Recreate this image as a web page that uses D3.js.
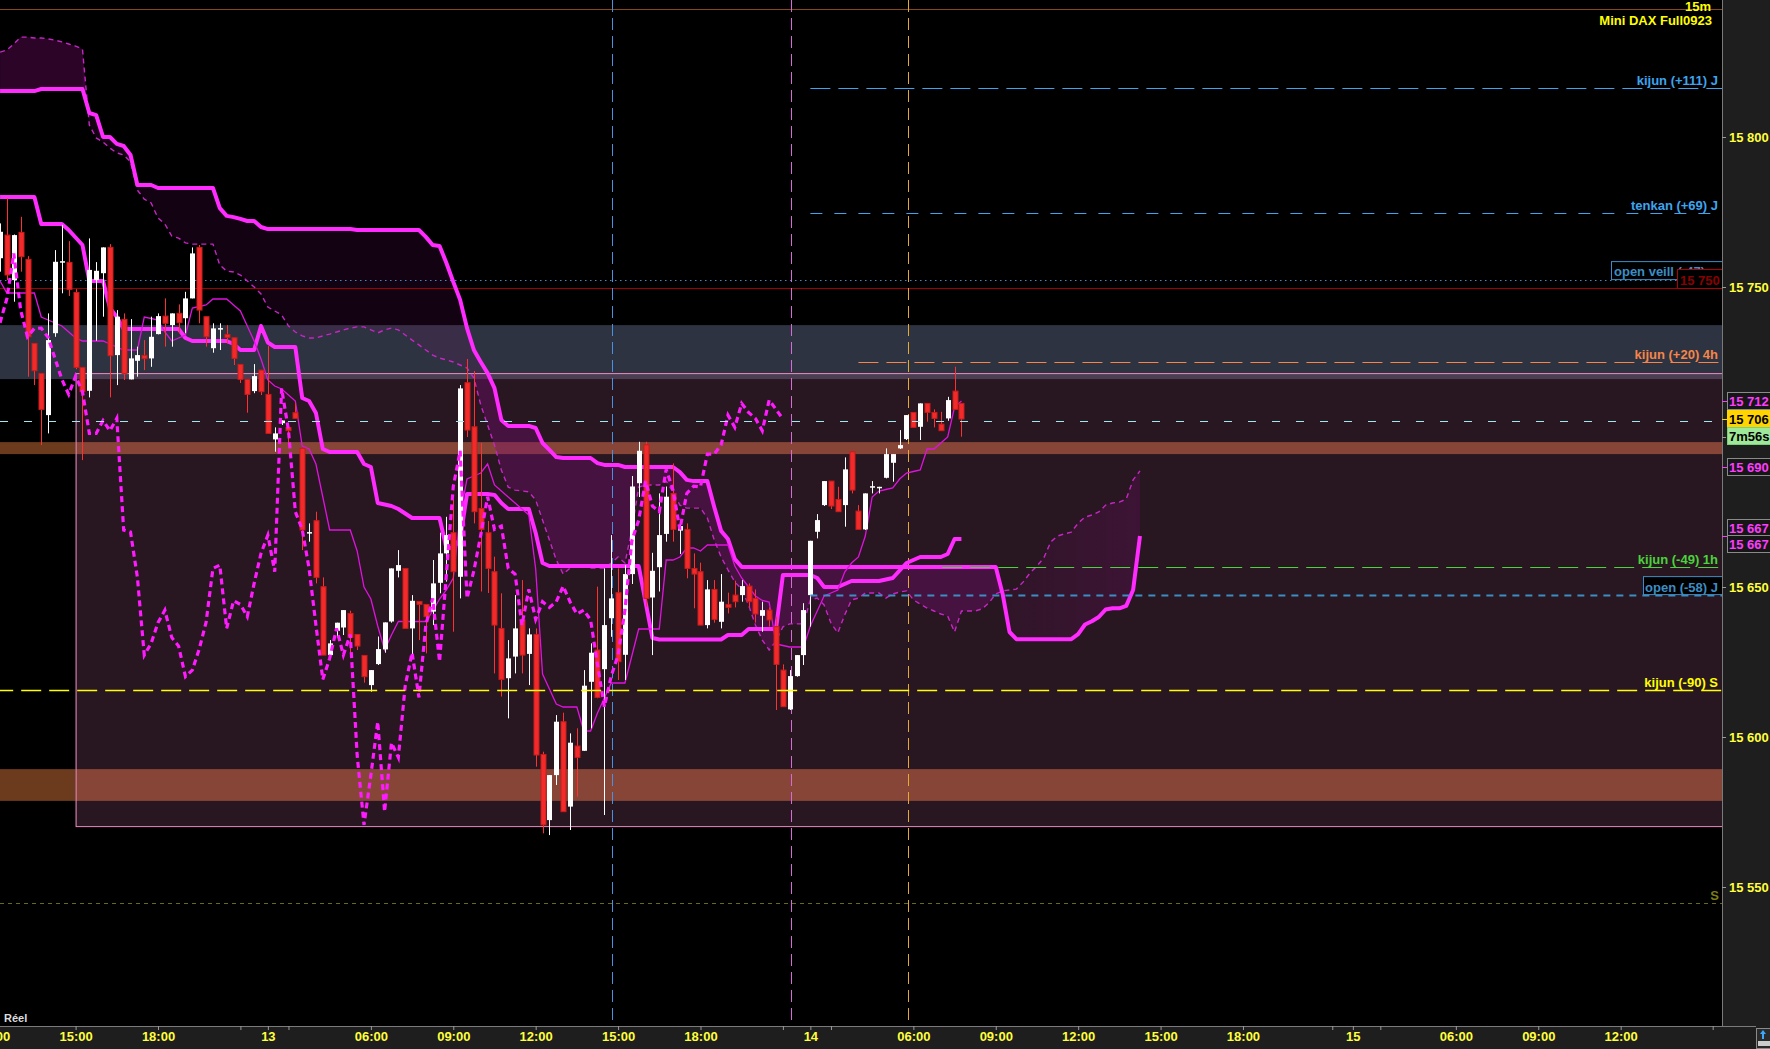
<!DOCTYPE html>
<html><head><meta charset="utf-8">
<script src="https://cdn.jsdelivr.net/npm/d3@7"></script>
<style>
html,body{margin:0;padding:0;background:#000;overflow:hidden}
svg{display:block}
text{font-family:"Liberation Sans",Arial,sans-serif;font-weight:bold}
</style></head><body>
<svg id="c" width="1770" height="1049"></svg>
<script>
// ---------- DATA ----------
const opens=[15759.6,15767.3,15752.3,15768.2,15759.2,15731.2,15721.2,15707.3,15734.6,15758.2,
15758.2,15748.2,15723.2,15715.4,15752.3,15754.6,15763.2,15727.3,15739.2,15719.2,
15725.4,15727.2,15726.2,15734.3,15740.3,15737.3,15741.2,15739.6,15746.2,15763.2,
15740.1,15729.6,15736.1,15734.2,15733.1,15724.2,15719.2,15715.3,15722.3,15714.2,
15699.2,15704.6,15703.2,15708.1,15696.2,15668.1,15672.1,15650.1,15627.3,15635.4,
15636.5,15641.2,15634.2,15627.2,15617.3,15624.3,15629.2,15638.5,15655.4,15656.2,
15636.2,15645.2,15644.2,15641.8,15651.4,15661.2,15668.1,15653.4,15718.1,15703.4,
15676.2,15668.1,15655.1,15636.2,15619.6,15626.8,15639,15627.7,15634.2,15594.2,
15572.3,15587.3,15605.1,15576.8,15597,15595.4,15618.4,15629,15622.6,15639.6,
15648.1,15627.4,15654.3,15684.6,15697.4,15646.5,15656.6,15667.7,15681.2,15668.8,
15669.2,15656.2,15655.1,15637.3,15649.2,15638.4,15644.2,15647.3,15647.3,15650.3,
15646.2,15640.4,15642.3,15636.8,15622.3,15609.2,15620.3,15627.3,15647.3,15668.4,
15677.3,15685.3,15679.2,15677.3,15695.1,15675.3,15669.2,15683.1,15683.2,15686.4,
15691.4,15696.2,15699.3,15708.2,15703.4,15711.2,15708.2,15704.3,15706.2,15715.3,
15711.2];
const highs=[15771.2,15779.6,15767.5,15773.4,15760.3,15731.2,15721.2,15741.2,15762.3,15770.7,
15765.3,15749.3,15723.2,15766.2,15758.3,15763.2,15764.3,15742.3,15741.2,15739.3,
15730.1,15732.3,15740.1,15741.2,15746.2,15741.2,15744.2,15748.4,15763.2,15764,
15740.1,15737.9,15737.9,15737.3,15733.1,15724.2,15719.2,15724.3,15722.3,15730.3,
15703.2,15705.5,15703.2,15711.2,15696.2,15671.2,15675.1,15653.2,15632.3,15638.1,
15642.3,15642.1,15634.2,15627.2,15622.3,15633.5,15638.2,15656.2,15662.3,15656.2,
15647.3,15645.2,15644.2,15659,15668.1,15673.4,15679.2,15717.3,15726,15722,
15698,15672,15660.1,15647.9,15632.3,15647.3,15652.3,15636.2,15636.2,15595.1,
15587.3,15607.3,15608.1,15601.2,15602.9,15622.3,15631.2,15650.1,15656.2,15667.3,
15656.2,15657.3,15687,15698.4,15698.4,15661.4,15681.2,15683.5,15691.2,15671.2,
15671.2,15661.2,15658.1,15652.3,15652.3,15654.3,15648.1,15652.1,15652.3,15651.2,
15649.2,15645.1,15643.2,15640.1,15624.2,15622.3,15627.3,15644.6,15665.4,15674.3,
15685.3,15685.3,15683.4,15693.2,15695.1,15677.3,15681.2,15685.3,15683.4,15696.2,
15694.3,15702.3,15707.3,15708.2,15711.2,15711.2,15709.2,15708.4,15713.4,15723.4,
15711.2];
const lows=[15755.1,15752.3,15745.1,15755.1,15720.1,15717.3,15697.3,15701.2,15733.4,15747.9,
15747,15722.6,15692.3,15713.2,15732.1,15740.1,15713.2,15717.3,15719,15719.2,
15720.1,15722.3,15723.4,15734.2,15730.1,15730.1,15734.6,15734.6,15746.2,15737.9,
15730.1,15728.1,15729,15731.2,15724,15718,15708.1,15714.6,15714,15701.2,
15695.1,15704,15697.7,15706.2,15662.3,15665.1,15651.2,15627.3,15626.8,15633.2,
15634,15627,15629,15618.1,15615.1,15624,15628.1,15638.1,15653.2,15636.2,
15627.3,15632.3,15627.9,15637.3,15647.9,15651.8,15635.1,15646.2,15700,15671.2,
15648.5,15648,15621.2,15613.5,15606.2,15621.2,15621.2,15617.3,15590.1,15567.9,
15567.3,15584,15575.1,15569,15580.1,15595.4,15602.9,15612.9,15574,15633.4,
15619,15619,15651,15680,15643.4,15627.3,15648.5,15665.1,15665.1,15661,
15652.9,15642.9,15637.3,15636.2,15638.1,15636.2,15641.2,15643.2,15645.1,15643.2,
15638.1,15635.1,15636.8,15609,15610.1,15609,15620.1,15624,15636.8,15666.2,
15677,15676,15675.1,15670.1,15681.2,15669.2,15669,15681.2,15681.2,15686.2,
15685.1,15696,15699,15703.2,15699,15705.1,15703.2,15702.1,15705.4,15709.2,
15700.1];
const closes=[15768.4,15754,15767.3,15760.1,15733.4,15722.1,15709.2,15732.3,15758.4,15758.6,
15749.2,15723.2,15715.1,15755.7,15755.4,15763.2,15727.1,15740.1,15721.2,15726.2,
15727.3,15726.1,15733.4,15740.3,15737.9,15741.2,15738.1,15746.2,15761.2,15742.3,
15733.4,15736.2,15736.3,15733.2,15726.2,15719.2,15714.2,15720.3,15715.1,15701.2,
15701.2,15705.5,15702.1,15706.2,15669,15668.3,15653.2,15627.3,15631.2,15638.1,
15642.3,15633.2,15630.3,15620.1,15622.3,15629.3,15638.2,15656.2,15657.3,15636.2,
15645.4,15644.2,15640.1,15651.2,15661.2,15667.3,15655.1,15716.2,15702.3,15675.1,
15669.2,15656.2,15637.3,15619.2,15626.2,15636.2,15627.3,15634.2,15594,15570.7,
15587.3,15605.1,15575.1,15598.1,15593.2,15617.1,15628.1,15613.2,15637.3,15646.2,
15625.1,15654.3,15683.5,15695.4,15646.2,15655.4,15667.3,15680.1,15669.2,15670.3,
15656.2,15654.3,15637.3,15649.2,15639.2,15645.1,15643.2,15645.1,15650.3,15645.1,
15641,15642.3,15639,15624.2,15610.1,15620.3,15627.3,15642.3,15665.4,15672.3,
15685.3,15677,15675.1,15689.2,15682.3,15669.2,15681.2,15683.6,15683.4,15694.3,
15694.3,15697.3,15707.3,15703.2,15711.2,15708.2,15706.2,15702.1,15712.3,15709.2,
15706];
const tenkan=[15752,15748,15748,15748,15748,15748,15740,15739,15738,15737,
15735,15733,15732,15732,15732,15732,15731,15730,15729,15729,
15729,15740,15739.5,15739,15735,15732,15733,15734,15743,15743.5,
15744,15746,15746,15746,15744,15742,15737,15732,15726,15719,
15717,15716,15714,15712,15697,15696,15691,15680,15669,15669,
15669,15669,15662,15650,15646,15637,15629,15634,15638.5,15638.5,
15638.5,15638.5,15638.5,15642,15646,15649,15653,15674,15686,15687,
15688,15691,15684,15682,15680,15678,15676,15674,15656,15621,
15616,15611,15610,15610,15610,15602,15602,15608,15613,15618,
15618,15618,15627,15636,15636,15636,15636,15659,15659,15660,
15663,15663,15662,15664,15664,15664,15664,15657,15653,15650,
15647,15645.5,15645,15631,15630.5,15630,15630,15630,15637,15642,
15647,15648,15649,15655,15658,15660,15667,15680,15682,15682.5,
15683,15686,15688,15688.5,15689,15696,15696,15698,15700,15710,
15712];
const kijun=[15780,15780,15780,15780,15780,15780,15771,15771,15771,15771,
15769,15766.5,15764,15752,15752,15752,15743,15740,15736,15736,
15736,15736,15736,15736,15736,15736,15736,15733,15732,15732,
15732,15732,15732,15732,15731,15729,15729,15729,15737,15731.5,
15730,15730,15730,15730,15713,15712,15708,15696,15695,15695,
15695,15695,15695,15691,15690,15678,15677.5,15677,15676,15674.5,
15673,15673,15673,15673,15673,15663,15663,15666,15681,15681,
15681,15681,15680.7,15678,15676,15676,15676,15676,15668,15658,
15657,15657,15657,15657,15657,15657,15657,15657,15657,15657,
15657,15657,15657,15657,15645,15633,15632.5,15632.5,15632.5,15632.5,
15632.5,15632.5,15632.5,15632.5,15632.5,15632.5,15634,15634,15634,15636,
15636,15636,15636,15636,15654,15654,15654,15654,15654,15653,
15650,15650,15650,15651,15652,15652,15652,15652,15652,15652.5,
15653,15655.5,15658,15659,15660,15660,15660,15660,15661,15666,
15666];
const senkouA=[15828.3,15829,15831,15833.3,15833.3,15833,15833,15832.7,15832.3,15831.7,
15831,15830.3,15829.3,15804,15799.7,15798.3,15796.3,15794.7,15794,15791.7,
15782.3,15779.3,15778,15773,15771,15767,15766.3,15764.7,15764.3,15764.3,
15764.3,15764.3,15757.3,15755.3,15755,15754,15752,15750,15747.7,15743.3,
15742,15740.7,15737,15735,15733.7,15733,15733,15733.7,15734.3,15735,
15735.7,15736.3,15736.7,15736.7,15735.7,15734.7,15735.7,15736.3,15735.7,15734,
15732.3,15730.7,15729,15727.3,15726.3,15725.7,15725,15724,15723,15719.7,
15710.7,15704,15697.3,15689,15683.3,15682.3,15682,15681.7,15679,15672.3,
15665.7,15659,15654.3,15656.3,15657.3,15656.7,15656.3,15656.3,15656.3,15658,
15660,15658,15669,15683.3,15684,15684,15684,15685.3,15681.7,15677.3,
15676.3,15676.3,15676.3,15673,15665.7,15660,15655.7,15651.7,15649.3,15644,
15637.3,15632.3,15629,15632,15636.7,15637.7,15637.7,15637.7,15645.7,15646.3,
15644,15638,15634.7,15640.7,15645.7,15646.3,15648,15648,15648,15646.3,
15647.7,15648.3,15648.7,15645.7,15644.3,15643,15642,15641,15640.3,15635,
15642,15642,15642,15642.7,15644.7,15647.7,15648.7,15649,15649.3,15651.7,
15654.7,15657,15659.7,15665,15667,15667.7,15668.3,15671.3,15673.3,15674,
15675,15677.3,15678,15678.3,15679.3,15685.7,15688.7];
const senkouB=[15815.3,15815.3,15815.3,15815.3,15815.3,15815.3,15816,15816,15816,15816,
15816,15816,15816,15808,15807.3,15800,15800,15797.7,15797,15794,
15784,15784,15784,15783,15783,15783,15783,15783,15783,15783,
15783,15783,15776.3,15773.7,15773.3,15772.7,15772,15772,15770,15769.3,
15769.3,15769.3,15769.3,15769.3,15769.3,15769.3,15769.3,15769.3,15769.3,15769.3,
15769.3,15769.3,15769,15769,15769,15769,15769,15769,15769,15769,
15769,15769,15766.7,15764,15763.7,15758,15751.7,15745.7,15736.3,15729,
15725,15721.3,15716.3,15705.7,15703.7,15703.7,15703.7,15703.7,15703,15698,
15695.7,15693.3,15693,15693,15693,15693,15693,15691.3,15690.7,15690.7,
15690.7,15690,15690,15690,15690,15690,15690,15690,15690,15688.3,
15685.7,15685.3,15685.3,15685.3,15676.7,15668.7,15666,15659.3,15656.7,15656.7,
15656.7,15656.7,15656.7,15656.7,15656.7,15656.7,15656.7,15656.7,15656.7,15656.7,
15656.7,15656.7,15656.7,15656.7,15656.7,15656.7,15656.7,15656.7,15656.7,15656.7,
15656.7,15656.7,15656.7,15656.7,15656.7,15656.7,15656.7,15656.7,15656.7,15656.7,
15656.7,15656.7,15656.7,15656.7,15656.7,15656.7,15647.7,15635,15632.6,15632.6,
15632.6,15632.6,15632.6,15632.6,15632.6,15632.6,15632.6,15634.3,15637.5,15638.6,
15640,15642.5,15642.9,15642.9,15643.7,15649,15667];
const chikouShift=26;

const timeTickIdx=[-1,11,23,39,54,66,78,90,102,118,133,145,157,169,181,197,212,224,236];
const timeTickLabels=["12:00","15:00","18:00","13","06:00","09:00","12:00","15:00","18:00","14","06:00","09:00","12:00","15:00","18:00","15","06:00","09:00","12:00"];
const minorTickIdx=[35,42,114,121,194,201,249.4];
const priceTicks=[15800,15750,15700,15650,15600,15550];

// zones (price)
const greyZone=[15737.3,15719.3];
const boxZone=[15721.3,15570.3];
const boxStartIdx=11;
const orangeZones=[[15698.3,15694.3],[15589.3,15578.7]];
// horizontal levels
const levelValues=[15816.3,15774.7,15724.9,15656.6,15647.3,15615.7];
const levelLabels=["kijun (+111) J","tenkan (+69) J","kijun (+20) 4h","kijun (-49) 1h","open (-58) J","kijun (-90) S"];
const levelStartIdx=[118,118,125,137.2,118,-1];
const lastPrice=15705.3;
const openVeille=15752.3, redLevel=15749.5, olivLevel=15544.7, topLevel=15842.7;
const verticalIdx=[89.1,115.2,132.15];
// right-axis tags
const tagValues=[15712,15706,15690,15667,15667];
const countdown="7m56s";

// ---------- SETUP ----------
const W=1770,H=1049,PR=1722,PB=1026;
const svg=d3.select("#c");
const x=d3.scaleLinear().domain([0,250]).range([0.06,1716.8]);
const y=d3.scaleLinear().domain([15800,15550]).range([137,887]);
const loc=d3.formatLocale({decimal:".",thousands:" ",grouping:[3],currency:["",""]});
const fmt=loc.format(",.0f");

svg.append("rect").attr("width",W).attr("height",H).attr("fill","#000");
const defs=svg.append("defs");
defs.append("clipPath").attr("id","plotClip").append("rect").attr("x",0).attr("y",0).attr("width",PR).attr("height",PB);
const bx=x(boxStartIdx), by1=y(boxZone[0]), by2=y(boxZone[1]);
defs.append("clipPath").attr("id","inBox").append("rect").attr("x",bx).attr("y",by1).attr("width",PR-bx).attr("height",by2-by1);
defs.append("clipPath").attr("id","outBox").append("path").attr("clip-rule","evenodd")
  .attr("d",`M0,0H${PR}V${PB}H0Z M${bx},${by1}H${PR}V${by2}H${bx}Z`);
const grad=defs.append("linearGradient").attr("id","futGrad").attr("gradientUnits","userSpaceOnUse")
  .attr("x1",x(145)).attr("x2",x(166)).attr("y1",0).attr("y2",0);
grad.append("stop").attr("offset","0%").attr("stop-color","rgb(126,11,118)").attr("stop-opacity",0.08);
grad.append("stop").attr("offset","100%").attr("stop-color","rgb(126,11,118)").attr("stop-opacity",0.24);

const plot=svg.append("g").attr("clip-path","url(#plotClip)");

// zones
plot.append("rect").attr("x",0).attr("width",PR).attr("y",y(greyZone[0])).attr("height",y(greyZone[1])-y(greyZone[0])).attr("fill","#2d3340");
plot.append("rect").attr("x",bx).attr("width",PR-bx).attr("y",by1).attr("height",by2-by1).attr("fill","rgba(182,100,145,0.22)");
orangeZones.forEach(z=>{
  plot.append("rect").attr("x",0).attr("width",bx).attr("y",y(z[0])).attr("height",y(z[1])-y(z[0])).attr("fill","#6c3a1c");
  plot.append("rect").attr("x",bx).attr("width",PR-bx).attr("y",y(z[0])).attr("height",y(z[1])-y(z[0])).attr("fill","#874537");
});

// cloud
const cloud=senkouA.map((a,i)=>({i,a,b:senkouB[i]}));
const seg=(s,e)=>cloud.filter(d=>d.i>=s&&d.i<=e);
const area=d3.area().x(d=>x(d.i)).y0(d=>y(d.a)).y1(d=>y(d.b));
const cloudCol="rgb(126,11,118)";
plot.append("path").attr("d",area(seg(0,13))).attr("fill",cloudCol).attr("fill-opacity",0.34).attr("clip-path","url(#outBox)");
plot.append("path").attr("d",area(seg(12,146))).attr("fill",cloudCol).attr("fill-opacity",0.15).attr("clip-path","url(#outBox)");
plot.append("path").attr("d",area(seg(12,146))).attr("fill",cloudCol).attr("fill-opacity",0.36).attr("clip-path","url(#inBox)");
plot.append("path").attr("d",area(seg(145,166))).attr("fill","url(#futGrad)").attr("clip-path","url(#inBox)");

// box border
plot.append("rect").attr("x",bx+0.5).attr("width",PR-bx).attr("y",by1+0.5).attr("height",by2-by1).attr("fill","none").attr("stroke","#ec8cc0").attr("stroke-width",1);

const hline=(v,x0,col,dash,w)=>plot.append("line").attr("x1",x0).attr("x2",PR).attr("y1",Math.round(y(v))+0.5).attr("y2",Math.round(y(v))+0.5)
  .attr("stroke",col).attr("stroke-width",w||1).attr("stroke-dasharray",dash||null);
hline(topLevel,0,"#8a4a18");
hline(openVeille,0,"#3c8dc4","1.5,3.5");
hline(redLevel,0,"#a00000");
hline(olivLevel,0,"#6a6a12","4,4");

// verticals
const vcols=["#4a8fe0","#d86ad8","#e8a838"];
verticalIdx.forEach((v,k)=>{
  plot.append("line").attr("x1",Math.round(x(v))+0.5).attr("x2",Math.round(x(v))+0.5).attr("y1",0).attr("y2",PB)
    .attr("stroke",vcols[k]).attr("stroke-width",1).attr("stroke-dasharray","12,6");
});

// ichimoku lines
const line=d3.line().x((d,i)=>x(i)).y(d=>y(d));
plot.append("path").attr("d",line(senkouA)).attr("fill","none").attr("stroke","#c526c5").attr("stroke-width",1.4).attr("stroke-dasharray","5,4");
plot.append("path").attr("d",line(senkouB)).attr("fill","none").attr("stroke","#ff2bff").attr("stroke-width",4).attr("stroke-linejoin","round");
plot.append("path").attr("d",line(kijun)).attr("fill","none").attr("stroke","#ff2bff").attr("stroke-width",4).attr("stroke-linejoin","round");
plot.append("path").attr("d",line(tenkan)).attr("fill","none").attr("stroke","#e012e0").attr("stroke-width",1.3);

// candles
const cg=plot.append("g");
closes.forEach((c,i)=>{
  const o=opens[i],h=highs[i],l=lows[i];
  const up=c>=o;
  const cx=Math.round(x(i));
  const col=up?"#ffffff":"#ff3030";
  cg.append("line").attr("x1",cx+0.5).attr("x2",cx+0.5).attr("y1",y(h)).attr("y2",y(l)).attr("stroke",col).attr("stroke-width",1);
  const t=y(Math.max(o,c)), b=y(Math.min(o,c));
  const hgt=Math.max(1.5,b-t);
  cg.append("rect").attr("x",cx-2).attr("width",5).attr("y",t).attr("height",hgt)
    .attr("fill",up?"#ffffff":"#f22a2a").attr("stroke",up?"none":"#c81c1c").attr("stroke-width",up?0:1);
});

// chikou
const chikou=closes.slice(chikouShift);
plot.append("path").attr("d",line(chikou)).attr("fill","none").attr("stroke","#ff1aff").attr("stroke-width",3.2).attr("stroke-dasharray","6,4");

// last price line
hline(lastPrice,0,"#a0e8f0","8,16");

// levels
const lvlCols=["#3ea4ee","#3ea4ee","#f5854a","#4bd23c","#3c8dc4","#ffff00"];
const lvlDash=["20,8","12,12","20,8","20,8","7,6","20,8"];
const lvlW=[1.2,1.2,1.2,1.2,2,1.5];
levelValues.forEach((v,k)=>{
  hline(v,x(levelStartIdx[k]),lvlCols[k],lvlDash[k],lvlW[k]);
});
const yOpen=y(levelValues[4]);
plot.append("rect").attr("x",1643.5).attr("y",yOpen-18.5).attr("width",80).attr("height",18).attr("fill","#000").attr("stroke","#3c8dc4");
levelValues.forEach((v,k)=>{
  plot.append("text").attr("x",1718).attr("y",y(v)-3).attr("text-anchor","end").attr("font-size",13).attr("fill",lvlCols[k]).text(levelLabels[k]);
});
const yOV=y(openVeille);
plot.append("rect").attr("x",1611.5).attr("y",yOV-18.5).attr("width",112).attr("height",18).attr("fill","#000").attr("stroke","#3c8dc4");
plot.append("text").attr("x",1614).attr("y",yOV-4).attr("font-size",13).attr("fill","#3c8dc4").text("open veill (-47)");
const yR=y(redLevel);
plot.append("rect").attr("x",1677.5).attr("y",yR-19).attr("width",46).attr("height",19).attr("fill","#000").attr("stroke","#b00000");
plot.append("text").attr("x",1680).attr("y",yR-4).attr("font-size",13).attr("fill","#8a0000").text(fmt(15750));
plot.append("text").attr("x",1719).attr("y",y(olivLevel)-3).attr("text-anchor","end").attr("font-size",13).attr("fill","#7c7c18").text("S");
plot.append("text").attr("x",1711).attr("y",11).attr("text-anchor","end").attr("font-size",13).attr("fill","#ffff00").text("15m");
plot.append("text").attr("x",1712).attr("y",25).attr("text-anchor","end").attr("font-size",13).attr("fill","#ffff00").text("Mini DAX Full0923");
plot.append("text").attr("x",4).attr("y",1022).attr("font-size",11).attr("font-weight","normal").attr("fill","#dddddd").text("Réel");

// ---------- AXES ----------
svg.append("rect").attr("x",PR).attr("y",0).attr("width",W-PR).attr("height",H).attr("fill","#1e1e1e");
svg.append("rect").attr("x",0).attr("y",PB).attr("width",W).attr("height",H-PB).attr("fill","#1e1e1e");
svg.append("line").attr("x1",PR+0.5).attr("x2",PR+0.5).attr("y1",0).attr("y2",PB).attr("stroke","#7a7a7a");
svg.append("line").attr("x1",0).attr("x2",W-14).attr("y1",PB+0.5).attr("y2",PB+0.5).attr("stroke","#7a7a7a");

const yAxis=svg.append("g").attr("transform",`translate(${PR},0)`)
  .call(d3.axisRight(y).tickValues(priceTicks).tickSize(4).tickPadding(3).tickFormat(fmt));
yAxis.select(".domain").remove();
yAxis.selectAll("line").attr("stroke","#9a9a9a");
yAxis.selectAll("text").attr("fill","#ffff3c").attr("font-size",13).attr("font-family","Liberation Sans, Arial, sans-serif").attr("font-weight","bold");

const xAxis=svg.append("g").attr("transform",`translate(0,${PB})`)
  .call(d3.axisBottom(x).tickValues(timeTickIdx).tickSize(4).tickPadding(2).tickFormat((d,k)=>timeTickLabels[k]));
xAxis.select(".domain").remove();
xAxis.selectAll("line").attr("stroke","#9a9a9a");
xAxis.selectAll("text").attr("fill","#ffff3c").attr("font-size",13).attr("font-family","Liberation Sans, Arial, sans-serif").attr("font-weight","bold");
const xMinor=svg.append("g").attr("transform",`translate(0,${PB})`)
  .call(d3.axisBottom(x).tickValues(minorTickIdx).tickSize(4).tickFormat(""));
xMinor.select(".domain").remove();
xMinor.selectAll("line").attr("stroke","#9a9a9a");

const tagStyle=[
 {bg:"#161616",bd:"#8a8a8a",fg:"#ff3cff",tick:"#ff3cff"},
 {bg:"#ffd400",bd:"#ffd400",fg:"#000",tick:"#ffd400"},
 {bg:"#161616",bd:"#8a8a8a",fg:"#ff3cff",tick:"#ff3cff"},
 {bg:"#161616",bd:"#8a8a8a",fg:"#ff3cff",tick:"#ff3cff"},
 {bg:"#161616",bd:"#8a8a8a",fg:"#ff3cff",tick:"#ff3cff"}];
const tagOffset=[0,0,0,-8,8];
tagValues.forEach((v,k)=>{
  const cy=y(v)+tagOffset[k], s=tagStyle[k];
  svg.append("line").attr("x1",PR).attr("x2",PR+5).attr("y1",Math.round(y(v))+0.5).attr("y2",Math.round(y(v))+0.5).attr("stroke",s.tick);
  svg.append("rect").attr("x",1727.5).attr("y",cy-8.5).attr("width",46).attr("height",17).attr("fill",s.bg).attr("stroke",s.bd);
  svg.append("text").attr("x",1729).attr("y",cy+5).attr("font-size",13).attr("fill",s.fg).text(fmt(v));
});
{
  const cy=y(tagValues[1])+17;
  svg.append("rect").attr("x",1727.5).attr("y",cy-8.5).attr("width",46).attr("height",17).attr("fill","#9ee89a").attr("stroke","#7ccf78");
  svg.append("text").attr("x",1729).attr("y",cy+5).attr("font-size",13).attr("fill","#000").text(countdown);
}
svg.append("rect").attr("x",1756.5).attr("y",1028.5).attr("width",14).attr("height",20).attr("fill","#2a2a2a").attr("stroke","#8a8a8a");
svg.append("path").attr("d","M1763,1030 l-3,4 h2 v5 h2 v-5 h2 z").attr("fill","#3aa8ff");
svg.append("rect").attr("x",1758).attr("y",1041).attr("width",12).attr("height",5).attr("fill","#ccc");
</script>
</body></html>
